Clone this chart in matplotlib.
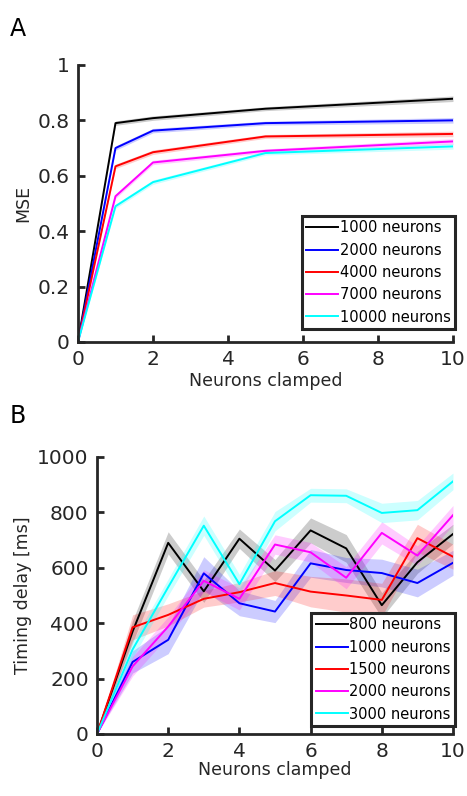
import numpy as np
import matplotlib
matplotlib.use("Agg")
import matplotlib.pyplot as plt

plt.rcParams['font.family'] = ['DejaVu Sans']

# Panel A: reconstruction error vs. number of clamped neurons
clamped_a = [0, 1, 2, 5, 10]
labels_a = ['1000 neurons', '2000 neurons', '4000 neurons', '7000 neurons', '10000 neurons']
mse_1000 = [0.0, 0.790, 0.808, 0.842, 0.878]
mse_2000 = [0.0, 0.700, 0.763, 0.790, 0.800]
mse_4000 = [0.0, 0.634, 0.685, 0.742, 0.751]
mse_7000 = [0.0, 0.526, 0.648, 0.690, 0.724]
mse_10000 = [0.0, 0.490, 0.577, 0.682, 0.706]
sem_a = [0.0, 0.008, 0.008, 0.007, 0.010]

# Panel B: timing delay vs. number of clamped neurons
clamped_b = [0, 1, 2, 3, 4, 5, 6, 7, 8, 9, 10]
labels_b = ['800 neurons', '1000 neurons', '1500 neurons', '2000 neurons', '3000 neurons']
delay_800 = [0, 370, 690, 515, 705, 590, 735, 670, 465, 620, 722]
delay_1000 = [0, 260, 340, 580, 472, 442, 616, 592, 581, 545, 618]
delay_1500 = [0, 385, 430, 488, 512, 545, 514, 500, 484, 707, 640]
delay_2000 = [0, 244, 388, 553, 488, 684, 656, 564, 726, 644, 790]
delay_3000 = [0, 305, 530, 752, 541, 768, 862, 860, 798, 808, 912]
err_800 = [0, 40, 40, 40, 35, 40, 45, 50, 45, 40, 35]
err_1000 = [0, 40, 50, 60, 45, 40, 50, 45, 50, 50, 45]
err_1500 = [0, 45, 40, 30, 35, 45, 55, 60, 60, 50, 45]
err_2000 = [0, 35, 35, 40, 40, 35, 35, 40, 40, 35, 35]
err_3000 = [0, 30, 30, 35, 35, 35, 25, 25, 35, 35, 30]

colors = ['#000000', '#0000ff', '#ff0000', '#ff00ff', '#00ffff']
spine_col = '#262626'


def style_axes(ax):
    for side in ['top', 'right']:
        ax.spines[side].set_visible(False)
    for side in ['left', 'bottom']:
        ax.spines[side].set_linewidth(2.0)
        ax.spines[side].set_color(spine_col)
    ax.tick_params(direction='in', length=5, width=2.0, color=spine_col,
                   labelsize=14.5, labelcolor='#262626', pad=6)


def draw_panel(ax, x, series, errs, labels):
    x = np.asarray(x)
    for y, e, c, lab in zip(series, errs, colors, labels):
        y = np.asarray(y, dtype=float)
        e = np.asarray(e, dtype=float)
        ax.fill_between(x, y - e, y + e, color=c, alpha=0.2, lw=0)
        ax.plot(x, y, color=c, lw=1.4, label=lab)


def add_legend(ax, anchor):
    leg = ax.legend(loc='lower right', bbox_to_anchor=anchor, borderaxespad=0,
                    fontsize=10.5, frameon=True, fancybox=False,
                    handlelength=2.2, handletextpad=0.1, borderpad=0.3,
                    labelspacing=0.5)
    leg.get_frame().set_edgecolor(spine_col)
    leg.get_frame().set_linewidth(2.2)
    leg.get_frame().set_alpha(1)
    return leg


fig = plt.figure(figsize=(4.67, 7.96), dpi=100)

ax1 = fig.add_axes([0.167, 0.5704, 0.803, 0.348])
draw_panel(ax1, clamped_a, [mse_1000, mse_2000, mse_4000, mse_7000, mse_10000],
           [sem_a] * 5, labels_a)
ax1.set_xlim(0, 10)
ax1.set_ylim(0, 1)
ax1.set_xticks([0, 2, 4, 6, 8, 10])
ax1.set_yticks([0, 0.2, 0.4, 0.6, 0.8, 1.0])
ax1.set_yticklabels(['0', '0.2', '0.4', '0.6', '0.8', '1'])
ax1.set_xlabel('Neurons clamped', fontsize=12.5, color='#262626', labelpad=2)
ax1.set_ylabel('MSE', fontsize=12.5, color='#262626', labelpad=4)
style_axes(ax1)
add_legend(ax1, (1.005, 0.047))

ax2 = fig.add_axes([0.2077, 0.0779, 0.7623, 0.348])
draw_panel(ax2, clamped_b, [delay_800, delay_1000, delay_1500, delay_2000, delay_3000],
           [err_800, err_1000, err_1500, err_2000, err_3000], labels_b)
ax2.set_xlim(0, 10)
ax2.set_ylim(0, 1000)
ax2.set_xticks([0, 2, 4, 6, 8, 10])
ax2.set_yticks([0, 200, 400, 600, 800, 1000])
ax2.set_xlabel('Neurons clamped', fontsize=12.5, color='#262626', labelpad=0)
ax2.set_ylabel('Timing delay [ms]', fontsize=12.5, color='#262626', labelpad=4)
style_axes(ax2)
add_legend(ax2, (1.006, 0.029))

fig.text(0.02, 0.964, 'A', fontsize=17, ha='left', va='center')
fig.text(0.02, 0.478, 'B', fontsize=17, ha='left', va='center')

fig.savefig('out.png', dpi=100)
